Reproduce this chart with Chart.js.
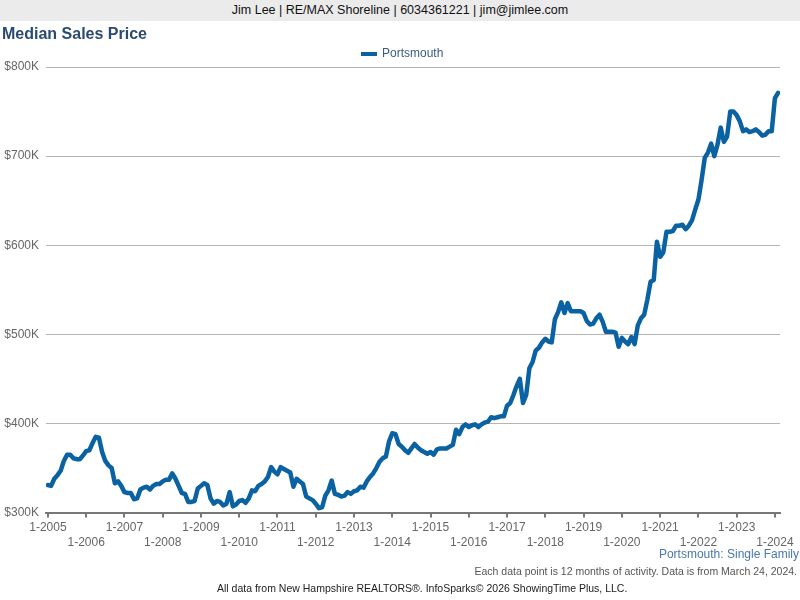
<!DOCTYPE html>
<html>
<head>
<meta charset="utf-8">
<script src="https://cdn.jsdelivr.net/npm/chart.js@4/dist/chart.umd.min.js"></script>
<style>
  body { margin: 0; width: 800px; height: 600px; overflow: hidden; background: #fff; font-family: "Liberation Sans", Arial, sans-serif; }
  #wrap { position: relative; width: 800px; height: 600px; }
  #salesChart { position: absolute; left: 0; top: 0; }
  .txt { position: absolute; white-space: nowrap; }
  #header { left: 0; top: 0; width: 800px; height: 21px; line-height: 21px; background: #ebebeb; text-align: center; font-size: 12.5px; color: #111; }
  #title { left: 2px; top: 25px; font-size: 16px; font-weight: bold; color: #2b4a70; }
  #legendBox { left: 361px; top: 52px; width: 16px; height: 4px; background: #0a62a3; }
  #legendText { left: 382px; top: 46px; font-size: 12px; color: #3b5b82; }
  #areaName { right: 1px; top: 547px; font-size: 12px; color: #4a78ac; }
  #note { right: 3px; top: 565px; font-size: 10.5px; color: #555; }
  #source { left: 217px; top: 582px; font-size: 10.5px; color: #222; }
</style>
</head>
<body>
<div id="wrap">
  <canvas id="salesChart" width="800" height="600"></canvas>
  <div class="txt" id="header">Jim Lee | RE/MAX Shoreline | 6034361221 | jim@jimlee.com</div>
  <div class="txt" id="title">Median Sales Price</div>
  <div class="txt" id="legendBox"></div>
  <div class="txt" id="legendText">Portsmouth</div>
  <div class="txt" id="areaName">Portsmouth: Single Family</div>
  <div class="txt" id="note">Each data point is 12 months of activity. Data is from March 24, 2024.</div>
  <div class="txt" id="source">All data from New Hampshire REALTORS®. InfoSparks© 2026 ShowingTime Plus, LLC.</div>
</div>
<script>
const seriesName = 'Portsmouth'
const startYear = 2005
const tickYears = [2005, 2006, 2007, 2008, 2009, 2010, 2011, 2012, 2013, 2014,
    2015, 2016, 2017, 2018, 2019, 2020, 2021, 2022, 2023, 2024]
const yTicksK = [300, 400, 500, 600, 700, 800]

// monthly median price in $K, Jan 2005 .. Feb 2024 (rolling 12 months)
const medianPriceK = [
    331, 330, 338, 342, 347, 358, 365, 365, 361, 360, 360, 364, // 2005
    369, 370, 378, 385, 384, 368, 358, 353, 350, 333, 335, 330, // 2006
    323, 322, 322, 315, 316, 326, 328, 329, 326, 330, 332, 332, // 2007
    335, 337, 337, 344, 338, 330, 322, 321, 312, 312, 313, 327, // 2008
    330, 333, 331, 316, 310, 313, 312, 308, 310, 323, 307, 309, // 2009
    313, 314, 311, 316, 325, 324, 330, 332, 335, 340, 351, 346, // 2010
    343, 351, 349, 347, 345, 329, 338, 335, 332, 318, 316, 314, // 2011
    310, 305, 306, 319, 325, 336, 321, 320, 318, 319, 323, 321, // 2012
    324, 325, 329, 328, 335, 340, 344, 350, 357, 361, 363, 380, // 2013
    389, 388, 377, 374, 370, 367, 372, 377, 373, 370, 368, 366, // 2014
    368, 365, 371, 372, 372, 372, 374, 376, 393, 388, 396, 399, // 2015
    396, 398, 399, 396, 399, 401, 402, 407, 406, 407, 408, 408, // 2016
    420, 423, 432, 442, 450, 423, 432, 462, 469, 482, 485, 491, // 2017
    495, 492, 491, 517, 525, 536, 524, 535, 526, 526, 526, 526, // 2018
    524, 515, 511, 512, 518, 522, 514, 503, 503, 503, 502, 486, // 2019
    496, 492, 489, 497, 489, 510, 518, 522, 539, 559, 561, 604, // 2020
    587, 592, 615, 615, 616, 622, 622, 623, 618, 622, 628, 640, // 2021
    651, 673, 698, 704, 714, 700, 713, 732, 716, 722, 750, 750, // 2022
    746, 739, 728, 730, 727, 728, 730, 727, 723, 724, 728, 728, // 2023
    765, 771                                                    // 2024
]

const lineColor = '#0a62a3'
const points = medianPriceK.map((v, i) => ({x: i, y: v}))

new Chart(document.getElementById('salesChart'), {
    type: 'line',
    data: {
        datasets: [{
            label: seriesName,
            data: points,
            borderColor: lineColor,
            backgroundColor: lineColor,
            borderWidth: 4.5,
            borderJoinStyle: 'round',
            borderCapStyle: 'round',
            pointRadius: 0,
            tension: 0,
            fill: false
        }]
    },
    options: {
        responsive: false,
        animation: false,
        events: [],
        layout: {
            padding: {top: 67, left: 0, right: 20, bottom: 47.4}
        },
        plugins: {
            legend: {display: false},
            tooltip: {enabled: false}
        },
        scales: {
            x: {
                type: 'linear',
                min: -0.6,
                max: medianPriceK.length - 0.4,
                afterFit: (scale) => { scale.height = 40 },
                afterBuildTicks: (scale) => {
                    scale.ticks = tickYears.map((y) => ({value: (y - startYear) * 12}))
                },
                grid: {
                    drawOnChartArea: false,
                    drawTicks: true,
                    tickLength: 5,
                    color: '#777',
                    lineWidth: 2
                },
                border: {display: true, color: '#777', width: 2},
                ticks: {
                    autoSkip: false,
                    maxRotation: 0,
                    padding: 3,
                    color: '#666',
                    font: {family: 'Liberation Sans, Arial', size: 12},
                    callback: (value, index) => {
                        const label = '1-' + tickYears[index]
                        return index % 2 === 0 ? label : ['', label]
                    }
                }
            },
            y: {
                min: yTicksK[0],
                max: yTicksK[yTicksK.length - 1],
                afterFit: (scale) => { scale.width = 46 },
                afterBuildTicks: (scale) => {
                    scale.ticks = yTicksK.map((v) => ({value: v}))
                },
                grid: {
                    drawTicks: false,
                    color: '#b5b5b5',
                    lineWidth: 1
                },
                border: {display: false},
                ticks: {
                    padding: 7,
                    color: '#666',
                    font: {family: 'Liberation Sans, Arial', size: 12},
                    callback: (v) => '$' + v + 'K'
                }
            }
        }
    }
})
</script>
</body>
</html>
